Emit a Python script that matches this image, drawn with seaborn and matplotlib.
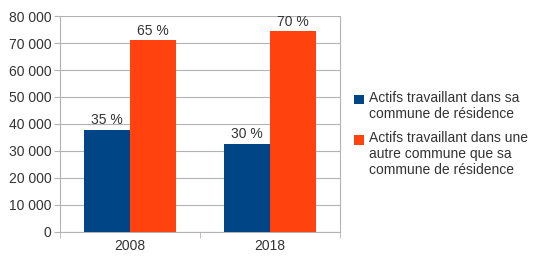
import pandas as pd
import matplotlib.pyplot as plt
import matplotlib.ticker as mticker
from matplotlib.patches import Rectangle
from matplotlib.legend_handler import HandlerPatch
import seaborn as sns

# valeurs
annees = ['2008', '2018']
series = ['Actifs travaillant dans sa\ncommune de résidence',
          'Actifs travaillant dans une\nautre commune que sa\ncommune de résidence']
meme_commune = [37800, 32600]
autre_commune = [71000, 74300]
pourcents_meme = ['35 %', '30 %']
pourcents_autre = ['65 %', '70 %']

df = pd.DataFrame({
    'annee': annees * 2,
    'serie': [series[0]] * 2 + [series[1]] * 2,
    'actifs': meme_commune + autre_commune,
})


class CarreEnHaut(HandlerPatch):
    # carré de légende aligné sur la première ligne du texte
    def __init__(self, decalage):
        super().__init__()
        self.decalage = decalage

    def create_artists(self, legend, orig_handle, xdescent, ydescent,
                       width, height, fontsize, trans):
        r = Rectangle((-xdescent, -ydescent + self.decalage), width, height,
                      facecolor=orig_handle.get_facecolor(), edgecolor='none',
                      transform=trans)
        return [r]


sns.set_style('white')
plt.rcParams['font.family'] = ['Liberation Sans', 'DejaVu Sans']
plt.rcParams['font.size'] = 10

fig = plt.figure(figsize=(5.34, 2.6), dpi=100)
ax = fig.add_axes([0.112, 0.109, 0.525, 0.829])

sns.barplot(data=df, x='annee', y='actifs', hue='serie',
            palette=['#004586', '#ff420e'], width=0.66, saturation=1,
            linewidth=0, ax=ax, zorder=3)

for cont, labs in zip(ax.containers, [pourcents_meme, pourcents_autre]):
    ax.bar_label(cont, labels=labs, padding=2, fontsize=10, color='#333333')

ax.set_ylim(0, 80000)
ax.set_xlim(-0.5, 1.5)
ax.yaxis.set_major_locator(mticker.MultipleLocator(10000))
ax.yaxis.set_major_formatter(mticker.FuncFormatter(lambda v, p: f'{int(v):,}'.replace(',', ' ')))
ax.grid(axis='y', color='#b3b3b3', linewidth=0.8, zorder=0)
ax.set_xlabel('')
ax.set_ylabel('')

for s in ['left', 'bottom', 'right']:
    ax.spines[s].set_color('#b3b3b3')
    ax.spines[s].set_linewidth(0.8)
ax.spines['top'].set_visible(False)

ax.tick_params(axis='y', length=4, color='#b3b3b3', left=True, labelcolor='#333333', pad=2)
ax.tick_params(axis='x', which='major', length=0, labelcolor='#333333', pad=5)
ax.set_xticks([-0.5, 0.5, 1.5], minor=True)
ax.tick_params(axis='x', which='minor', length=4, color='#b3b3b3', bottom=True)

handles, labels = ax.get_legend_handles_labels()
ax.legend(handles, labels, loc='upper left', bbox_to_anchor=(1.03, 0.677), frameon=False,
          handlelength=0.7, handleheight=0.7, handletextpad=0.4,
          labelspacing=0.68, borderaxespad=0, fontsize=10, labelcolor='#333333',
          handler_map={handles[0]: CarreEnHaut(5.4), handles[1]: CarreEnHaut(10.8)})

fig.savefig('out.png', dpi=100)
